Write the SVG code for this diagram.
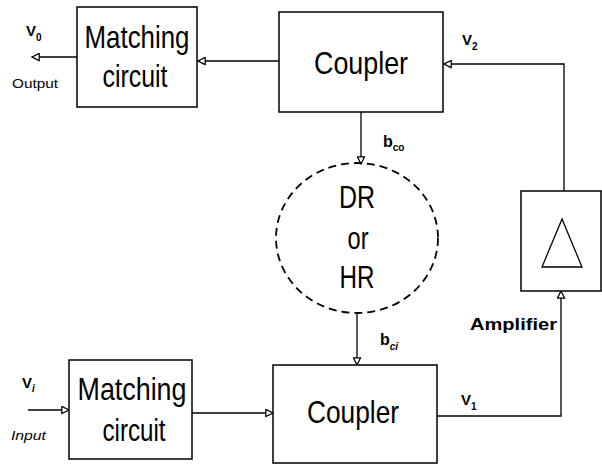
<svg xmlns="http://www.w3.org/2000/svg" width="602" height="466" viewBox="0 0 602 466">
<style>
.box{fill:#fff;stroke:#000;stroke-width:1.5}
.big{font-family:"Liberation Sans",Arial,sans-serif;font-size:32px;fill:#000;text-anchor:middle}
.lbl{font-family:"Liberation Sans",Arial,sans-serif;font-weight:bold;fill:#000}
.thin{font-family:"Liberation Sans",Arial,sans-serif;font-weight:normal;fill:#000}
.wire{fill:none;stroke:#000;stroke-width:1.3}
</style>
<defs>
<marker id="arr" viewBox="0 0 10 10" refX="9" refY="5" markerWidth="9" markerHeight="9" markerUnits="userSpaceOnUse" orient="auto">
<path d="M1,1 L9,5 L1,9 Z" fill="#fff" stroke="#000" stroke-width="1.4"/>
</marker>
</defs>
<rect width="602" height="466" fill="#fff"/>
<g id="connectors">
<line class="wire" x1="279" y1="61" x2="198" y2="61" marker-end="url(#arr)"/>
<line class="wire" x1="77" y1="57" x2="32" y2="57" marker-end="url(#arr)"/>
<path class="wire" d="M564,191 V64 H444" marker-end="url(#arr)"/>
<line class="wire" x1="361" y1="112" x2="361" y2="164" marker-end="url(#arr)"/>
<line class="wire" x1="357" y1="313" x2="357" y2="365" marker-end="url(#arr)"/>
<line class="wire" x1="28" y1="410" x2="69" y2="410" marker-end="url(#arr)"/>
<line class="wire" x1="192" y1="413" x2="273" y2="413" marker-end="url(#arr)"/>
<path class="wire" d="M437,416 H561 V291" marker-end="url(#arr)"/>
</g>
<g id="matching-out">
<rect class="box" x="77" y="7" width="120" height="100"/>
<text class="big" x="137" y="48" textLength="105" lengthAdjust="spacingAndGlyphs">Matching</text>
<text class="big" x="135" y="87" textLength="65" lengthAdjust="spacingAndGlyphs">circuit</text>
</g>
<g id="coupler-top">
<rect class="box" x="279" y="12" width="164" height="100"/>
<text class="big" x="361" y="74" textLength="94" lengthAdjust="spacingAndGlyphs">Coupler</text>
</g>
<g id="resonator">
<ellipse cx="357" cy="238" rx="81" ry="75" fill="none" stroke="#000" stroke-width="1.8" stroke-dasharray="8 5"/>
<text class="big" x="357" y="208" textLength="36" lengthAdjust="spacingAndGlyphs">DR</text>
<text class="big" x="358" y="249" textLength="21" lengthAdjust="spacingAndGlyphs">or</text>
<text class="big" x="357" y="288" textLength="35" lengthAdjust="spacingAndGlyphs">HR</text>
</g>
<g id="amplifier">
<rect class="box" x="521" y="191" width="80" height="100"/>
<polygon points="562,219 542,267 582,267" fill="#fff" stroke="#000" stroke-width="1.3"/>
</g>
<g id="matching-in">
<rect class="box" x="69" y="360" width="123" height="99"/>
<text class="big" x="132" y="400" textLength="109" lengthAdjust="spacingAndGlyphs">Matching</text>
<text class="big" x="134" y="441" textLength="63" lengthAdjust="spacingAndGlyphs">circuit</text>
</g>
<g id="coupler-bottom">
<rect class="box" x="273" y="365" width="164" height="98"/>
<text class="big" x="353" y="423" textLength="92" lengthAdjust="spacingAndGlyphs">Coupler</text>
</g>
<g id="labels">
<text class="lbl" x="26" y="36" font-size="15">V<tspan font-size="10" dy="5">0</tspan></text>
<text class="thin" x="12" y="88" font-size="13" textLength="46" lengthAdjust="spacingAndGlyphs">Output</text>
<text class="lbl" x="462" y="45" font-size="15">V<tspan font-size="10" dy="5">2</tspan></text>
<text class="lbl" x="383" y="147" font-size="16">b<tspan font-size="10" dy="4">co</tspan></text>
<text class="lbl" x="380" y="345" font-size="16">b<tspan font-size="10" dy="5" font-style="italic">ci</tspan></text>
<text class="lbl" x="470" y="330" font-size="17" textLength="87" lengthAdjust="spacingAndGlyphs">Amplifier</text>
<text class="lbl" x="461" y="405" font-size="15">V<tspan font-size="10" dy="5">1</tspan></text>
<text class="lbl" x="22" y="388" font-size="15">V<tspan font-size="10" dy="4" font-style="italic">i</tspan></text>
<text class="thin" x="11" y="440" font-size="13" font-style="italic" textLength="35" lengthAdjust="spacingAndGlyphs">Input</text>
</g>
</svg>
